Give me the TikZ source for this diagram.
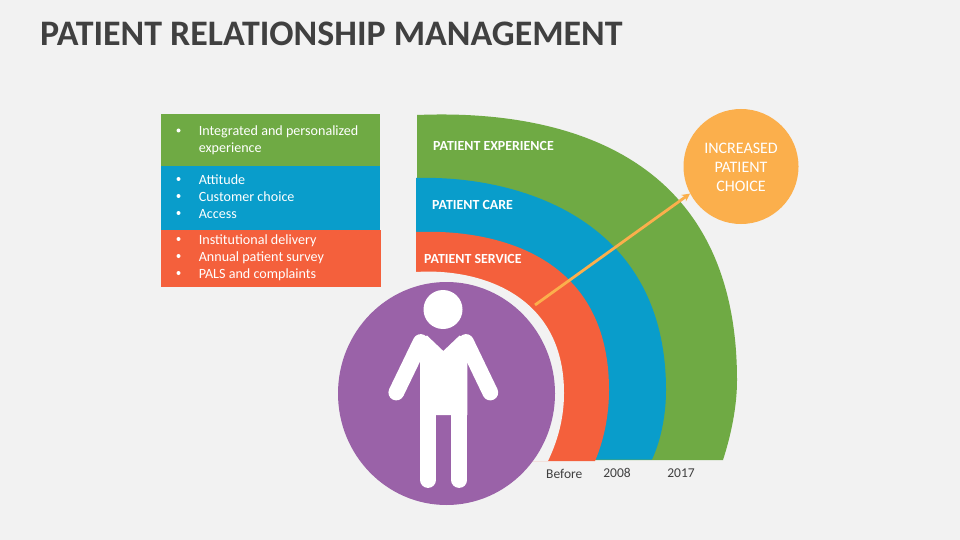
\documentclass[tikz,border=0pt]{standalone}
\usepackage{fontspec}
\setmainfont{Carlito}
\usetikzlibrary{arrows.meta, positioning}
\definecolor{CBack}{HTML}{F2F2F2}
\definecolor{CText}{HTML}{404040}
\definecolor{CGreen}{HTML}{6FAA44}
\definecolor{CBlue}{HTML}{099DCB}
\definecolor{COrange}{HTML}{F4603C}
\definecolor{CPurple}{HTML}{9A62A8}
\definecolor{CGold}{HTML}{FBAF4C}
\tikzset{
    listbox/.style={anchor=north west, inner sep=0pt, outer sep=0pt},
    listtext/.style={anchor=west, inner sep=0pt, text=white, font=\fontsize{14.1}{17}\selectfont, align=left},
    bandlabel/.style={anchor=west, inner sep=0pt, text=white, font=\fontsize{13.9}{17}\selectfont\bfseries},
    yearlabel/.style={inner sep=0pt, text=CText, font=\fontsize{13.5}{16}\selectfont},
    limb/.style={white, line width=15.8pt, line cap=round}
}

\begin{document}
\begin{tikzpicture}[x=1pt, y=-1pt]
    % Page
    \fill[CBack] (0, 0) rectangle (960, 540);
    \useasboundingbox (0, 0) rectangle (960, 540);

    % Title
    \node[anchor=west, inner sep=0pt, text=CText, font=\fontsize{35.9}{40}\selectfont\bfseries] (title) at (40, 34) {PATIENT RELATIONSHIP MANAGEMENT};

    % List boxes
    \node[listbox, fill=CGreen, minimum width=219pt, minimum height=52pt] (boxexperience) at (161, 114) {};
    \node[listbox, fill=CBlue, minimum width=219pt, minimum height=64pt] (boxcare) at (161, 166) {};
    \node[listbox, fill=COrange, minimum width=220pt, minimum height=57.5pt] (boxservice) at (161, 229.5) {};

    % List texts
    \foreach \ypos/\lname/\ltext in {132/a/Integrated and personalized, 149/b/experience, 180/c/Attitude, 197/d/Customer choice, 214/e/Access, 241/f/Institutional delivery, 258/g/Annual patient survey, 275/h/PALS and complaints} {
        \node[listtext] (item\lname) at (198.6, \ypos) {\ltext};
    }
    \foreach \ypos/\lname in {130.5/a, 179/c, 196/d, 213/e, 239/f, 256/g, 273/h} {
        \fill[white] (178.5, \ypos) circle (2);
    }

    % Bands, each one painted over the last
    \fill[CGreen] (417,115) .. controls (537,110) and (737,137) .. (737,380) .. controls (737,407) and (731,435) .. (723,460) -- (417,460) -- cycle;
    \fill[CBlue] (416,178) .. controls (511,175) and (666,214) .. (666,390) .. controls (666,415) and (661,440) .. (652,459.5) -- (416,459.5) -- cycle;
    \fill[COrange] (416,232) .. controls (491,229) and (609,252) .. (609,390) .. controls (609,415) and (604,440) .. (595,461) -- (416,461) -- cycle;
    \fill[CBack] (416,272) .. controls (476,268) and (564,292) .. (564,393) .. controls (564,418) and (558,440) .. (548,461) -- (416,461) -- cycle;

    % Band labels
    \node[bandlabel] (experience) at (433, 145.6) {PATIENT EXPERIENCE};
    \node[bandlabel] (care) at (432, 204.6) {PATIENT CARE};
    \node[bandlabel] (service) at (424, 258.6) {PATIENT SERVICE};

    % Years
    \node[yearlabel] (before) at (564.3, 473.5) {Before};
    \node[yearlabel] (yearA) at (617, 472.5) {2008};
    \node[yearlabel] (yearB) at (681, 472.8) {2017};

    % Patient
    \fill[CPurple] (446.5, 393.5) ellipse (108.5 and 111.5);
    \fill[white] (443, 309.5) circle (19.5);
    \fill[white] (420,340) -- (427,335.5) -- (443.3,351) -- (459.6,335.5) -- (467.3,340) -- (467.3,415) -- (420,415) -- cycle;
    \draw[limb] (420.7, 342) -- (396.3, 392.5);
    \draw[limb] (466, 342) -- (490.3, 392.5);
    \draw[limb] (428, 410) -- (428, 480);
    \draw[limb] (459.3, 410) -- (459.3, 480);

    % Goal
    \node[circle, fill=CGold, minimum size=115pt, inner sep=0pt, align=center, text=white, font=\fontsize{16}{19}\selectfont] (choice) at (741, 166.5) {\rule{0pt}{13pt}INCREASED\\PATIENT\\CHOICE};

    % Arrow
    \coordinate (patientedge) at (535, 305);
    \draw[-{Stealth[length=8pt, width=8pt]}, CGold, line width=2.8pt] (patientedge) -- (choice.208);
\end{tikzpicture}
\end{document}
